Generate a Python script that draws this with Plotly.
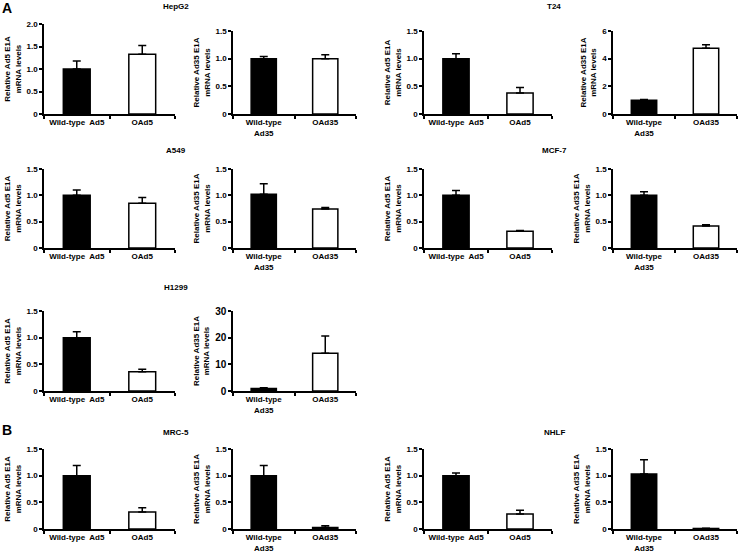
import plotly.graph_objects as go

# values (relative E1A mRNA, mean and upper error)
cell_lines = ["HepG2", "T24", "A549", "MCF-7", "H1299", "MRC-5", "NHLF"]
ad5_wt = [1.00, 1.00, 1.00, 1.00, 1.00, 1.00, 1.00]
ad5_wt_err = [0.18, 0.09, 0.10, 0.09, 0.11, 0.19, 0.05]
ad5_oad = [1.33, 0.38, 0.85, 0.32, 0.36, 0.32, 0.28]
ad5_oad_err = [0.19, 0.10, 0.11, 0.01, 0.05, 0.08, 0.07]
ad35_wt = [1.00, 1.00, 1.02, 1.00, 0.90, 1.00, 1.03]
ad35_wt_err = [0.04, 0.05, 0.20, 0.07, 0.30, 0.19, 0.27]
ad35_oad = [1.00, 4.75, 0.74, 0.42, 14.2, 0.03, 0.01]
ad35_oad_err = [0.07, 0.25, 0.03, 0.02, 6.4, 0.03, 0.005]

ad5_ticks = [["0", "0.5", "1.0", "1.5", "2.0"]] + [["0", "0.5", "1.0", "1.5"]] * 6
ad35_ticks = [["0", "0.5", "1.0", "1.5"], ["0", "2", "4", "6"],
              ["0", "0.5", "1.0", "1.5"], ["0", "0.5", "1.0", "1.5"],
              ["0", "10", "20", "30"], ["0", "0.5", "1.0", "1.5"],
              ["0", "0.5", "1.0", "1.5"]]

ad5_cats = ["Wild-type\u00a0 Ad5", "OAd5"]
ad35_cats = ["Wild-type<br>Ad35", "OAd35"]
ad5_title = "Relative Ad5 E1A<br>mRNA levels"
ad35_title = "Relative Ad35 E1A<br>mRNA levels"

# layout in pixels (740 x 555 page)
W, H = 740, 555
col_px = [(44, 175), (233, 356), (424, 552), (613, 737)]
row_px = [(31, 114), (169, 248), (311, 391), (449, 529)]
cell_pos = [(0, 0), (0, 1), (1, 0), (1, 1), (2, 0), (3, 0), (3, 1)]
title_x = [176, 554]
title_y = [6, 150, 287, 432]

FONT = "Liberation Sans, Arial, sans-serif"

fig = go.Figure()
layout = {}
annotations = []
n = 0

for i, name in enumerate(cell_lines):
    row, pair = cell_pos[i]
    panels = [
        (ad5_cats, [ad5_wt[i], ad5_oad[i]], [ad5_wt_err[i], ad5_oad_err[i]],
         ad5_ticks[i], ad5_title),
        (ad35_cats, [ad35_wt[i], ad35_oad[i]], [ad35_wt_err[i], ad35_oad_err[i]],
         ad35_ticks[i], ad35_title),
    ]
    for k, (cats, vals, errs, ticks, ytitle) in enumerate(panels):
        n += 1
        col = pair * 2 + k
        x0, x1 = col_px[col]
        top, zero = row_px[row]
        if name == "HepG2" and k == 0:
            top = 24
        tickvals = [float(t) for t in ticks]
        big = tickvals[-1] >= 30
        fig.add_trace(go.Bar(
            x=cats, y=vals,
            marker=dict(color=["black", "white"],
                        line=dict(color="black", width=1.5)),
            error_y=dict(type="data", array=errs, arrayminus=[0, 0],
                         symmetric=False, color="black",
                         thickness=1.5, width=4),
            xaxis=f"x{n}", yaxis=f"y{n}", showlegend=False,
        ))
        layout[f"xaxis{n}"] = dict(
            domain=[x0 / W, x1 / W], anchor=f"y{n}",
            type="category", range=[-0.5, 1.5], automargin=False,
            tickson="boundaries", ticks="outside", ticklen=3, tickwidth=1.5,
            tickcolor="black", showline=True, linewidth=1.5, linecolor="black",
            showgrid=False, zeroline=False, fixedrange=True, tickangle=0,
            tickfont=dict(family=FONT, size=8, color="black", weight="bold"),
        )
        layout[f"yaxis{n}"] = dict(
            domain=[1 - zero / H, 1 - top / H], anchor=f"x{n}",
            range=[0, tickvals[-1]], tickvals=tickvals, ticktext=ticks,
            automargin=False,
            ticks="outside", ticklen=3, tickwidth=1.5, tickcolor="black",
            showline=True, linewidth=1.5, linecolor="black",
            showgrid=False, zeroline=False, fixedrange=True,
            tickfont=dict(family=FONT, size=10 if big else 8, color="black",
                          weight="bold"),
            title=dict(text=ytitle, standoff=4,
                       font=dict(family=FONT, size=8, color="black",
                                 weight="bold")),
        )
    annotations.append(dict(
        text=name, x=title_x[pair] / W, y=1 - title_y[row] / H,
        xref="paper", yref="paper", showarrow=False,
        xanchor="center", yanchor="middle",
        font=dict(family=FONT, size=8, color="black", weight="bold"),
    ))

for letter, (lx, ly) in zip(["A", "B"], [(7, 8), (7, 430)]):
    annotations.append(dict(
        text=letter, x=lx / W, y=1 - ly / H, xref="paper", yref="paper",
        showarrow=False, xanchor="center", yanchor="middle",
        font=dict(family=FONT, size=14, color="black", weight="bold"),
    ))

fig.update_layout(
    template="none",
    width=W, height=H,
    margin=dict(l=0, r=0, t=0, b=0, autoexpand=False),
    paper_bgcolor="white", plot_bgcolor="white",
    bargap=0.59,
    annotations=annotations,
    **layout,
)

# drop the page's default body margin so the figure sits at the window corner
fig.write_html("out.html",
               config={"displayModeBar": False},
               post_script="document.body.style.margin='0';")
